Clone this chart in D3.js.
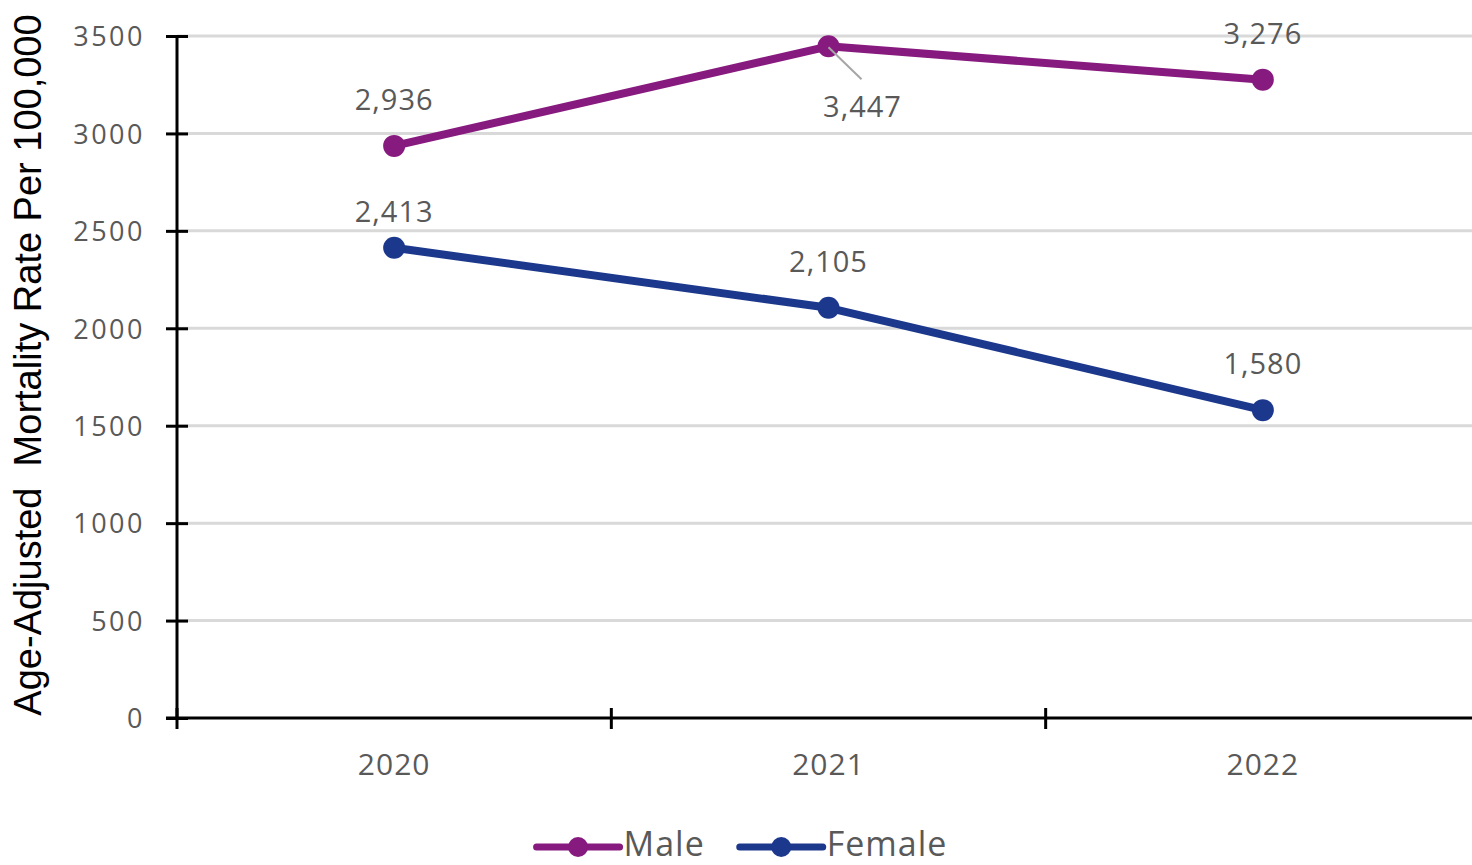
<!DOCTYPE html>
<html><head><meta charset="utf-8">
<script src="https://cdn.jsdelivr.net/npm/d3@7"></script>
<style>body{margin:0;background:#fff;} svg{display:block}</style>
</head><body>
<svg id="chart" width="1472" height="865"></svg>
<script>
const years = ["2020", "2021", "2022"];
const maleValues = [2936, 3447, 3276];
const femaleValues = [2413, 2105, 1580];
const seriesNames = ["Male", "Female"];
const seriesColors = ["#871a7e", "#1c388c"];
const yTicks = [0, 500, 1000, 1500, 2000, 2500, 3000, 3500];
const axisTitle = "Age-Adjusted  Mortality Rate Per 100,000";

const W = 1472, H = 865;
const svg = d3.select("#chart");
const x = d3.scaleBand().domain(years).range([177, 1480]);
const y = d3.scaleLinear().domain([0, 3500]).range([718, 36]);
const textColor = "#595959";
const labelFont = "'Open Sans', sans-serif";

// gridlines
svg.append("g").selectAll("line").data(yTicks.filter(d => d > 0)).join("line")
  .attr("x1", x.range()[0]).attr("x2", W)
  .attr("y1", d => y(d)).attr("y2", d => y(d))
  .attr("stroke", "#d9d9d9").attr("stroke-width", 3);

// y axis
const yAxis = svg.append("g").attr("transform", `translate(${x.range()[0]},0)`)
  .call(d3.axisLeft(y).tickValues(yTicks).tickFormat(d3.format("d")).tickSize(11).tickPadding(21));
yAxis.select(".domain").attr("stroke", "#000").attr("stroke-width", 3)
  .attr("d", `M0,${y(0)}V${y(3500)}`);
yAxis.selectAll(".tick line").attr("x1", -11).attr("x2", 11).attr("stroke", "#000").attr("stroke-width", 3);
yAxis.selectAll(".tick text").attr("fill", textColor).style("font-family", labelFont)
  .style("font-size", "27px").style("letter-spacing", "2.5px").attr("dy", "0.36em");

// x axis
const xAxis = svg.append("g").attr("transform", `translate(0,${y(0)})`)
  .call(d3.axisBottom(x).tickSize(0).tickPadding(0));
xAxis.select(".domain").attr("stroke", "#000").attr("stroke-width", 3)
  .attr("d", `M${x.range()[0] - 11},0H${W}`);
xAxis.selectAll(".tick text").attr("fill", textColor).style("font-family", labelFont)
  .style("font-size", "30px").style("letter-spacing", "1px").attr("y", 57).attr("dy", null);
xAxis.selectAll("line.bound").data(years).join("line").attr("class", "bound")
  .attr("x1", d => x(d)).attr("x2", d => x(d)).attr("y1", -10).attr("y2", 11)
  .attr("stroke", "#000").attr("stroke-width", 3);

// y axis title
svg.append("text")
  .attr("transform", `translate(41,365) rotate(-90)`)
  .attr("text-anchor", "middle")
  .style("font-family", "'Liberation Sans', Arial, sans-serif")
  .style("font-size", "38px").attr("fill", "#000")
  .style("white-space", "pre").attr("xml:space", "preserve")
  .text(axisTitle);

// series
const series = [maleValues, femaleValues];
const cx = d => x(d) + x.bandwidth() / 2;
const line = d3.line().x((d, i) => cx(years[i])).y(d => y(d));
series.forEach((vals, si) => {
  const g = svg.append("g");
  g.append("path").datum(vals).attr("d", line).attr("fill", "none")
    .attr("stroke", seriesColors[si]).attr("stroke-width", 8).attr("stroke-linejoin", "round");
  g.selectAll("circle").data(vals).join("circle")
    .attr("cx", (d, i) => cx(years[i])).attr("cy", d => y(d)).attr("r", 11)
    .attr("fill", seriesColors[si]);
});

// data labels
const fmt = d3.format(",");
series.forEach((vals, si) => {
  vals.forEach((v, i) => {
    const px = cx(years[i]), py = y(v);
    let dx = 0, dy = -36;
    if (si === 1 && i === 0) dy = -26;
    if (si === 0 && i === 1) {
      dx = 34; dy = 71;
      svg.append("line").attr("x1", px).attr("y1", py + 1).attr("x2", px + 33).attr("y2", py + 33)
        .attr("stroke", "#a6a6a6").attr("stroke-width", 2);
    }
    svg.append("text").attr("x", px + dx).attr("y", py + dy)
      .attr("text-anchor", "middle").attr("fill", textColor)
      .style("font-family", labelFont).style("font-size", "29px").style("letter-spacing", "1px")
      .text(fmt(v));
  });
});

// legend
const lg = svg.append("g");
const items = seriesNames.map((name, i) => {
  const it = lg.append("g");
  it.append("line").attr("x1", 0).attr("x2", 83).attr("y1", 0).attr("y2", 0)
    .attr("stroke", seriesColors[i]).attr("stroke-width", 7).attr("stroke-linecap", "round");
  it.append("circle").attr("cx", 41.5).attr("cy", 0).attr("r", 10).attr("fill", seriesColors[i]);
  const t = it.append("text").attr("x", 87).attr("y", 9).attr("fill", textColor)
    .style("font-family", labelFont).style("font-size", "34px").style("letter-spacing", "1px")
    .text(name);
  return { g: it, w: 87 + t.node().getComputedTextLength() };
});
const gap = 35;
const total = d3.sum(items, d => d.w) + gap * (items.length - 1);
let lx = 742 - total / 2;
items.forEach(it => { it.g.attr("transform", `translate(${lx},847)`); lx += it.w + gap; });
</script>
</body></html>
